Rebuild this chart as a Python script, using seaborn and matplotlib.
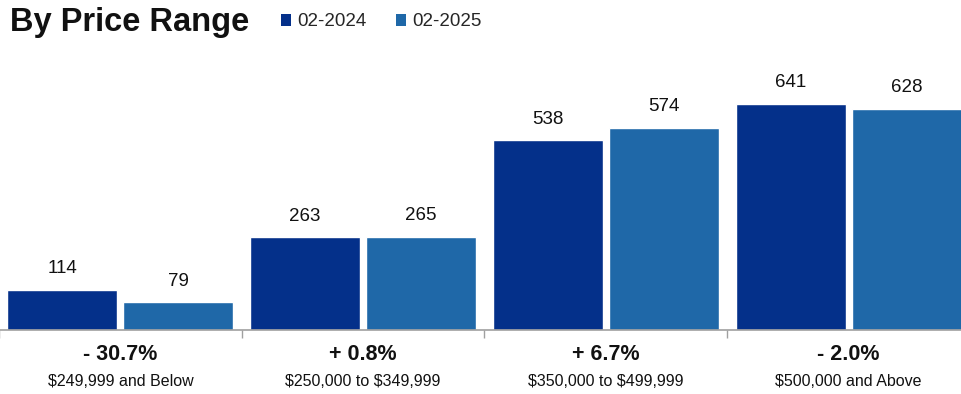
import matplotlib
matplotlib.use("Agg")
import matplotlib.pyplot as plt
from matplotlib import font_manager
from matplotlib.patches import Patch
from matplotlib.transforms import blended_transform_factory
import seaborn as sns
import pandas as pd

# Closed sales by price range, same month in two consecutive years
categories = ["$249,999 and Below", "$250,000 to $349,999",
              "$350,000 to $499,999", "$500,000 and Above"]
periods = ["02-2024", "02-2025"]
sales_2024 = [114, 263, 538, 641]
sales_2025 = [79, 265, 574, 628]
colors = ["#04308A", "#1F68A8"]

df = pd.DataFrame({
    "range": categories * 2,
    "period": [periods[0]] * 4 + [periods[1]] * 4,
    "sales": sales_2024 + sales_2025,
})

sns.set_theme(style="white")
names = {f.name for f in font_manager.fontManager.ttflist}
body_font = "Liberation Sans" if "Liberation Sans" in names else "DejaVu Sans"
title_font = "Liberation Sans Narrow" if "Liberation Sans Narrow" in names else body_font
plt.rcParams["font.family"] = [body_font, "DejaVu Sans"]
plt.rcParams["text.parse_math"] = False

W, H = 962, 394
fig = plt.figure(figsize=(W / 100, H / 100), dpi=100)
# axes spans slightly past the right edge so the last group is cut like a page crop
ax_left, ax_right = -1 / W, 970 / W
ax_bottom, ax_top = (H - 330) / H, (H - 50) / H
ax = fig.add_axes([ax_left, ax_bottom, ax_right - ax_left, ax_top - ax_bottom])

sns.barplot(data=df, x="range", y="sales", hue="period", palette=colors,
            width=0.955, gap=0.05, ax=ax, legend=False, saturation=1)

ax.set_xlim(-0.5, 3.5)
ax.set_ylim(0, 280 / 0.3526)
ax.set_xlabel("")
ax.set_ylabel("")
ax.set_yticks([])
for s in ["top", "right", "left"]:
    ax.spines[s].set_visible(False)
ax.spines["bottom"].set_color("#A0A0A0")
ax.spines["bottom"].set_linewidth(1.2)

# boundaries between groups as short downward ticks
ax.set_xticks([-0.5, 0.5, 1.5, 2.5, 3.5])
ax.set_xticklabels([])
ax.tick_params(axis="x", direction="out", length=6, width=1, color="#A0A0A0", bottom=True)

for cont in ax.containers:
    ax.bar_label(cont, fmt="%d", padding=9, fontsize=13.5, color="#111111")

# year-over-year change and range label under each group
under = blended_transform_factory(ax.transData, fig.transFigure)
for i, cat in enumerate(categories):
    pct = (sales_2025[i] - sales_2024[i]) / sales_2024[i] * 100
    sign = "+" if pct >= 0 else "-"
    ax.text(i, (H - 355) / H, f"{sign} {abs(pct):.1f}%", transform=under,
            ha="center", va="center", fontsize=15.5, fontweight="bold", color="#111111")
    ax.text(i, (H - 382) / H, cat, transform=under,
            ha="center", va="center", fontsize=11.5, color="#111111")

fig.text(10 / W, (H - 22) / H, "By Price Range", family=[title_font, "DejaVu Sans"],
         fontsize=23.5, fontweight="bold", ha="left", va="center", color="#111111")

handles = [Patch(facecolor=c, edgecolor="none") for c in colors]
fig.legend(handles, periods, loc="center left", bbox_to_anchor=(281 / W, (H - 22) / H),
           ncol=2, frameon=False, fontsize=13.5, handlelength=0.55, handleheight=0.55,
           handletextpad=0.3, columnspacing=1.6, borderaxespad=0, borderpad=0)

fig.savefig("out.png", dpi=100)
